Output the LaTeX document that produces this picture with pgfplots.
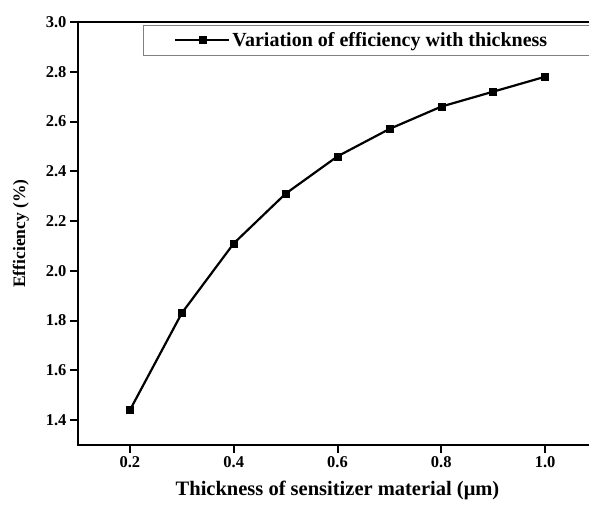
\documentclass[border=0pt]{standalone}
\usepackage{pgfplots}
\pgfplotsset{compat=1.18}
\usetikzlibrary{calc}
\usepackage{fontspec}
\setmainfont{Liberation Serif}
\begin{document}
\begin{tikzpicture}
\begin{axis}[
  name=ax,
  scale only axis,
  width=519pt, height=423pt,
  xmin=0.1, xmax=1.1,
  ymin=1.3, ymax=3.0,
  xtick={0.2,0.4,0.6,0.8,1.0},
  ytick={1.4,1.6,1.8,2.0,2.2,2.4,2.6,2.8,3.0},
  xticklabel style={/pgf/number format/fixed,/pgf/number format/fixed zerofill,/pgf/number format/precision=1},
  yticklabel style={/pgf/number format/fixed,/pgf/number format/fixed zerofill,/pgf/number format/precision=1},
  /pgf/number format/assume math mode=true,
  tick label style={font=\fontsize{16.5}{19}\selectfont\bfseries},
  tick align=outside,
  xtick pos=bottom, ytick pos=left,
  major tick length=8pt,
  tick style={line width=2pt, black},
  axis line style={line width=2pt},
  xlabel={Thickness of sensitizer material (μm)},
  ylabel={Efficiency (\%)},
  xlabel style={font=\fontsize{20.5}{24}\selectfont\bfseries, yshift=-6pt},
  ylabel style={font=\fontsize{17.5}{20}\selectfont\bfseries, yshift=10pt},
  legend style={at={(rel axis cs:0.125,0.993)}, anchor=north west, draw=gray, line width=0.8pt,
    font=\fontsize{20}{23}\selectfont\bfseries, inner xsep=3pt, inner ysep=5pt},
  legend image code/.code={\path (-28pt,0pt); \draw[mark repeat=2,mark phase=2,line width=2.2pt] plot coordinates {(0pt,0pt)(27pt,0pt)(54pt,0pt)};},
]
\addplot[black, line width=2.2pt, mark=square*, mark size=3.5pt, mark options={line width=0.5pt}] coordinates {
(0.2,1.44) (0.3,1.83) (0.4,2.11) (0.5,2.31) (0.6,2.46) (0.7,2.57) (0.8,2.66) (0.9,2.72) (1.0,2.78)
};
\addlegendentry{Variation of efficiency with thickness\hspace*{60pt}\mbox{}}
\end{axis}
\pgfresetboundingbox
\path[use as bounding box] ($(ax.south west)+(-78pt,-61pt)$) rectangle ($(ax.south west)+(511pt,445pt)$);
\end{tikzpicture}
\end{document}
